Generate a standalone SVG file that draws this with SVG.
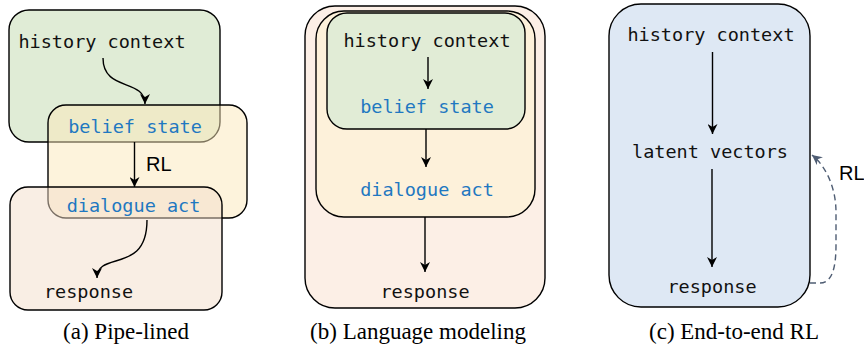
<svg xmlns="http://www.w3.org/2000/svg" width="864" height="347" viewBox="0 0 864 347">
  <style>
    .box { stroke: #000; stroke-width: 1.4; }
    .ovl { fill-opacity: 0.5; }
    .mono { font-family: "DejaVu Sans Mono", "Liberation Mono", monospace; font-size: 18.5px; text-anchor: middle; fill: #111; }
    .blue { fill: #1f78c1; }
    .lbl { font-family: "Liberation Sans", Arial, sans-serif; font-size: 20px; fill: #000; }
    .cap { font-family: "Liberation Serif", "Times New Roman", serif; font-size: 23px; text-anchor: middle; fill: #000; }
    .arr { fill: none; stroke: #000; stroke-width: 1.4; marker-end: url(#head); }
    .rl { fill: none; stroke: #4f5d73; stroke-width: 1.4; stroke-dasharray: 6 4; marker-end: url(#headSlate); }
  </style>
  <defs>
    <marker id="head" markerUnits="userSpaceOnUse" markerWidth="11" markerHeight="10" refX="10" refY="5" orient="auto" viewBox="0 0 11 10">
      <path d="M0,0 L10,5 L0,10 L3,5 Z" fill="#000"/>
    </marker>
    <marker id="headSlate" markerUnits="userSpaceOnUse" markerWidth="11" markerHeight="10" refX="10" refY="5" orient="auto" viewBox="0 0 11 10">
      <path d="M0,0 L10,5 L0,10 L3,5 Z" fill="#4f5d73"/>
    </marker>
  </defs>

  <!-- (a) pipe-lined: overlapping translucent stages -->
  <g id="a-history">
    <rect class="box ovl" x="9" y="10" width="211" height="132" rx="20" fill="#c1d9ad"/>
    <text class="mono" x="102" y="48">history context</text>
  </g>
  <g id="a-belief">
    <rect class="box ovl" x="48" y="105" width="199" height="113" rx="18" fill="#fbe7b9"/>
    <text class="mono blue" x="135" y="133">belief state</text>
  </g>
  <g id="a-act">
    <rect class="box ovl" x="10" y="187" width="212" height="123" rx="18" fill="#f3ddc9"/>
    <text class="mono blue" x="133.5" y="212">dialogue act</text>
    <text class="mono" x="88.5" y="298">response</text>
  </g>
  <text class="cap" x="126" y="339">(a) Pipe-lined</text>

  <!-- (b) language modeling: nested stages -->
  <g id="b-response">
    <rect class="box" x="305" y="6" width="240" height="302" rx="30" fill="#fcefe6"/>
    <text class="mono" x="425" y="298">response</text>
  </g>
  <g id="b-act">
    <rect class="box" x="316" y="11" width="219" height="206" rx="28" fill="#fdf1da"/>
    <text class="mono blue" x="427" y="196">dialogue act</text>
  </g>
  <g id="b-history">
    <rect class="box" x="327" y="13" width="198" height="116" rx="20" fill="#e1ecd6"/>
    <text class="mono" x="427" y="47">history context</text>
    <text class="mono blue" x="427" y="113">belief state</text>
  </g>
  <text class="cap" x="418" y="339">(b) Language modeling</text>

  <!-- (c) end-to-end RL -->
  <g id="c-model">
    <rect class="box" x="609" y="4" width="201" height="303" rx="32" fill="#dee8f4"/>
    <text class="mono" x="711" y="41">history context</text>
    <text class="mono" x="710" y="158">latent vectors</text>
    <text class="mono" x="712" y="293">response</text>
  </g>
  <text class="cap" x="734" y="339">(c) End-to-end RL</text>

  <!-- connectors -->
  <g id="connectors">
    <path class="arr" d="M103,58 C103,92 145,78 145,104"/>
    <path class="arr" d="M134.5,142 L134.5,187"/>
    <text class="lbl" x="146" y="171">RL</text>
    <path class="arr" d="M147,220 C147,275 97,250 97,278"/>

    <path class="arr" d="M428,57 L428,89"/>
    <path class="arr" d="M426,129 L426,167"/>
    <path class="arr" d="M425,217 L425,272"/>

    <path class="arr" d="M712.5,52 L712.5,134"/>
    <path class="arr" d="M712,169 L712,267"/>
    <path class="rl" d="M810,283 L820,283 C832,283 836,268 836,245 L836,212 C836,188 826,166 812,155"/>
    <text class="lbl" x="839" y="180">RL</text>
  </g>
</svg>
